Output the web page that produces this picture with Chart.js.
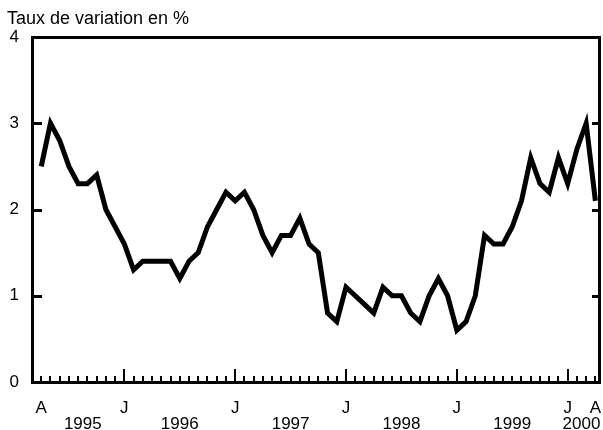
<!DOCTYPE html>
<html>
<head>
<meta charset="utf-8">
<script src="https://cdn.jsdelivr.net/npm/chart.js@4/dist/chart.umd.min.js"></script>
<style>
	html, body { margin: 0; padding: 0; background: #fff; }
	#wrap { width: 603px; height: 430px; }
</style>
</head>
<body>
<div id="wrap"><canvas id="Inflation"></canvas></div>
<script>
// monthly values, April 1995 .. April 2000
const values = [
	2.5, 3.0, 2.8, 2.5, 2.3, 2.3, 2.4, 2.0, 1.8,
	1.6, 1.3, 1.4, 1.4, 1.4, 1.4, 1.2, 1.4, 1.5, 1.8, 2.0, 2.2,
	2.1, 2.2, 2.0, 1.7, 1.5, 1.7, 1.7, 1.9, 1.6, 1.5, 0.8, 0.7,
	1.1, 1.0, 0.9, 0.8, 1.1, 1.0, 1.0, 0.8, 0.7, 1.0, 1.2, 1.0,
	0.6, 0.7, 1.0, 1.7, 1.6, 1.6, 1.8, 2.1, 2.6, 2.3, 2.2, 2.6,
	2.3, 2.7, 3.0, 2.1
];
const monthTicks = [0, 9, 21, 33, 45, 57, 60];
const monthLabels = ['A', 'J', 'J', 'J', 'J', 'J', 'A'];
const yearLabels = ['1995', '1996', '1997', '1998', '1999', '2000'];
const yTicks = [0, 1, 2, 3, 4];
const title = 'Taux de variation en %';

const FONT = 'Liberation Sans, Arial, sans-serif';
const ctx = document.getElementById('Inflation').getContext('2d');

// year labels sit half way between the labelled months
const yearTicks = [];
for (let i = 0; i < yearLabels.length; i++) {
	yearTicks.push((monthTicks[i] + monthTicks[i + 1]) / 2);
}

// keep the axes from reserving room for overhanging labels
function noOverhang(s) {
	s.paddingLeft = 0;
	s.paddingRight = 0;
}

const framePlugin = {
	id: 'frame',
	afterDraw(chart) {
		const c = chart.ctx;
		const a = chart.chartArea;
		const x = chart.scales.x;
		const y = chart.scales.y;
		c.save();
		c.strokeStyle = '#000';
		c.lineCap = 'butt';

		// inward ticks on both sides
		c.lineWidth = 3;
		for (let v = 1; v < 4; v++) {
			const py = Math.round(y.getPixelForValue(v)) + 0.5;
			c.beginPath();
			c.moveTo(a.left, py); c.lineTo(a.left + 10, py);
			c.moveTo(a.right, py); c.lineTo(a.right - 8, py);
			c.stroke();
		}

		// month ticks on the bottom, longer for January
		c.lineWidth = 2;
		for (let i = 0; i < values.length; i++) {
			const px = Math.round(x.getPixelForValue(i));
			const len = (i - 9) % 12 === 0 ? 13 : 6;
			c.beginPath();
			c.moveTo(px, a.bottom);
			c.lineTo(px, a.bottom - len);
			c.stroke();
		}

		c.lineWidth = 3;
		c.strokeRect(a.left + 0.5, a.top + 0.5, a.right - a.left - 1, a.bottom - a.top);

		c.fillStyle = '#000';
		c.font = '18px ' + FONT;
		c.textBaseline = 'alphabetic';
		c.fillText(title, 7, 24);
		c.restore();
	}
};

new Chart(ctx, {
	type: 'line',
	data: {
		datasets: [{
			data: values.map((v, i) => ({x: i, y: v})),
			borderColor: '#000',
			borderWidth: 5,
			borderJoinStyle: 'miter',
			pointRadius: 0,
			tension: 0,
			fill: false
		}]
	},
	options: {
		responsive: true,
		maintainAspectRatio: false,
		animation: false,
		layout: {
			padding: {left: 0, top: 37, right: 3, bottom: 0}
		},
		plugins: {
			legend: {display: false},
			tooltip: {enabled: false}
		},
		scales: {
			y: {
				type: 'linear',
				min: 0,
				max: 4,
				afterBuildTicks: (s) => { s.ticks = yTicks.map(v => ({value: v})); },
				afterFit: (s) => { s.width = 32; s.paddingTop = 0; s.paddingBottom = 0; },
				border: {display: false},
				grid: {display: false, drawTicks: false},
				ticks: {
					color: '#000',
					padding: 13,
					font: {family: FONT, size: 17}
				}
			},
			x: {
				type: 'linear',
				position: 'bottom',
				min: -1,
				max: 60.5,
				afterBuildTicks: (s) => { s.ticks = monthTicks.map(v => ({value: v})); },
				afterFit: (s) => { s.height = 31; noOverhang(s); },
				border: {display: false},
				grid: {display: false, drawTicks: false},
				ticks: {
					color: '#000',
					padding: 16,
					autoSkip: false,
					maxRotation: 0,
					font: {family: FONT, size: 17},
					callback: (v, i) => monthLabels[i]
				}
			},
			years: {
				type: 'linear',
				position: 'bottom',
				min: -1,
				max: 60.5,
				afterBuildTicks: (s) => { s.ticks = yearTicks.map(v => ({value: v})); },
				afterFit: (s) => { s.height = 17; noOverhang(s); },
				border: {display: false},
				grid: {display: false, drawTicks: false},
				ticks: {
					color: '#000',
					padding: 1,
					autoSkip: false,
					maxRotation: 0,
					font: {family: FONT, size: 17},
					callback: (v, i) => yearLabels[i]
				}
			}
		}
	},
	plugins: [framePlugin]
});
</script>
</body>
</html>
